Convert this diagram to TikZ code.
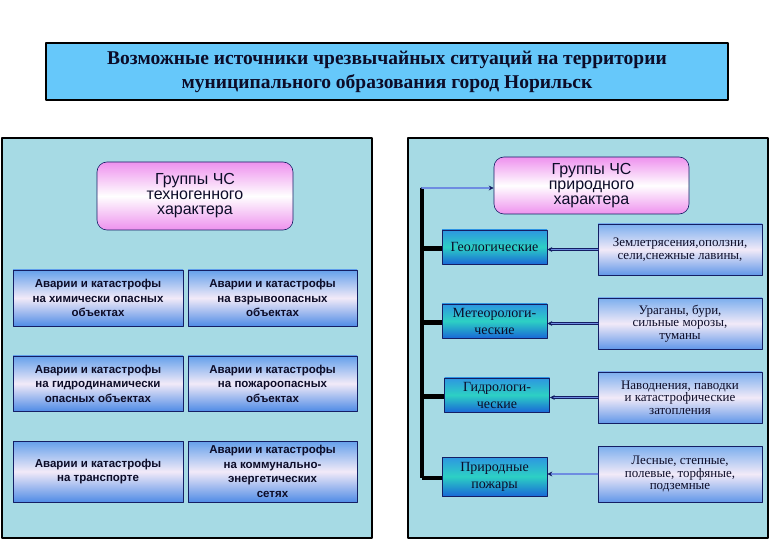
\documentclass[tikz,border=0pt]{standalone}
\usepackage{fontspec}
\setmainfont{Liberation Serif}
\setsansfont{Liberation Sans}
\usetikzlibrary{arrows.meta}
\definecolor{aqua}{RGB}{166,218,228}
\definecolor{titleblue}{RGB}{102,200,250}
\definecolor{navy}{RGB}{20,30,100}
\definecolor{inkc}{RGB}{12,12,40}
\definecolor{boxtop}{RGB}{100,160,235}
\definecolor{boxmid}{RGB}{242,234,248}
\definecolor{boxbot}{RGB}{80,140,230}
\definecolor{tealtop}{RGB}{45,150,225}
\definecolor{tealmid}{RGB}{45,208,196}
\definecolor{tealbot}{RGB}{25,105,215}
\definecolor{pinkc}{RGB}{238,145,238}
\definecolor{linkblue}{RGB}{110,140,225}

\begin{document}
\begin{tikzpicture}[line cap=round,line join=round,>={Stealth[length=5pt,width=5pt]},x=1pt,y=-1pt,
  panel/.style={draw=black,line width=1.2pt,fill=aqua},
  headbox/.style={draw=black,line width=1.5pt,fill=titleblue,text=inkc,align=center,
    font=\bfseries\fontsize{19.5}{24}\selectfont},
  groupbox/.style={draw=navy,line width=0.6pt,rounded corners=10pt,top color=pinkc,
    bottom color=pinkc,middle color=white,text=inkc,align=center,inner sep=0pt,
    font=\sffamily\fontsize{16}{15}\selectfont},
  accbox/.style={draw=navy,line width=0.6pt,top color=boxtop,bottom color=boxbot,
    middle color=boxmid,text=inkc,align=center,inner sep=0pt,minimum height=56pt,
    font=\sffamily\bfseries\fontsize{11.5}{14.5}\selectfont},
  kindbox/.style={draw=navy,line width=0.6pt,top color=tealtop,bottom color=tealbot,
    middle color=tealmid,text=inkc,align=center,inner sep=0pt,minimum width=105pt,
    minimum height=34pt,font=\fontsize{14}{17}\selectfont},
  descbox/.style={draw=navy,line width=0.6pt,top color=boxtop!85!white,bottom color=boxbot!90!white,
    middle color=boxmid,text=inkc,align=center,inner sep=0pt,minimum width=164pt,
    minimum height=51pt,font=\fontsize{13}{12.5}\selectfont},
  link/.style={->,draw=navy,line width=0.7pt,double=linkblue,double distance=1.4pt},
  trunk/.style={draw=black,line width=4.5pt,line cap=butt}]
\useasboundingbox[fill=white] (0,0) rectangle (780,540);

% heading
\node[headbox,minimum width=682pt,minimum height=57pt] (head) at (387,71.5)
  {Возможные источники чрезвычайных ситуаций на территории\\муниципального образования город Норильск};

% left panel: technogenic
\node[panel,minimum width=370pt,minimum height=400pt] (panelL) at (187,338) {};
\node[groupbox,minimum width=196pt,minimum height=68pt] (techno) at (195,196)
  {Группы ЧС\\техногенного\\характера};
\node[accbox,minimum width=170pt] (chem) at (98,298)
  {Аварии и катастрофы\\на химически опасных\\объектах};
\node[accbox,minimum width=169pt] (expl) at (272.5,298)
  {Аварии и катастрофы\\на взрывоопасных\\объектах};
\node[accbox,minimum width=170pt,minimum height=55pt] (hydro) at (98,383.5)
  {Аварии и катастрофы\\на гидродинамически\\опасных объектах};
\node[accbox,minimum width=169pt,minimum height=55pt] (fire) at (272.5,383.5)
  {Аварии и катастрофы\\на пожароопасных\\объектах};
\node[accbox,minimum width=170pt,minimum height=61pt] (trans) at (98,471.5)
  {Аварии и катастрофы\\на транспорте};
\node[accbox,minimum width=169pt,minimum height=61pt] (util) at (272.5,471.5)
  {Аварии и катастрофы\\на коммунально-\\энергетических\\сетях};

% right panel: natural
\node[panel,minimum width=360pt,minimum height=400pt] (panelR) at (588,338) {};
\node[groupbox,minimum width=195pt,minimum height=57pt] (natur) at (591.5,185.5)
  {Группы ЧС\\природного\\характера};
\node[kindbox] (geo) at (494.5,247) {Геологические};
\node[kindbox] (meteo) at (494.5,321) {Метеорологи-\\ческие};
\node[kindbox] (hydr) at (497,395) {Гидрологи-\\ческие};
\node[kindbox,minimum height=39pt] (wild) at (494.5,476.5) {Природные\\пожары};
\node[descbox] (geod) at (680,249.5) {Землетрясения,оползни,\\сели,снежные лавины,};
\node[descbox] (meteod) at (680,323.5) {Ураганы, бури,\\сильные морозы,\\туманы};
\node[descbox] (hydrd) at (680,397.5) {Наводнения, паводки\\и катастрофические\\затопления};
\node[descbox,minimum height=56pt] (wildd) at (680,474) {Лесные, степные,\\полевые, торфяные,\\подземные};

% trunk and branches
\coordinate (bartop) at (422,188);
\coordinate (barbot) at (422,478);
\draw[trunk] (bartop) -- (barbot);
\foreach \k in {geo,meteo,hydr,wild}
  \draw[trunk] ([yshift=-1.5pt]bartop |- \k.west) -- ([yshift=-1.5pt]\k.west);
\draw[link] (bartop) -- (bartop -| natur.west);
\foreach \d/\k in {geod/geo,meteod/meteo,hydrd/hydr,wildd/wild}
  \draw[link] (\d.west) -- (\d.west -| \k.east);
\end{tikzpicture}
\end{document}
